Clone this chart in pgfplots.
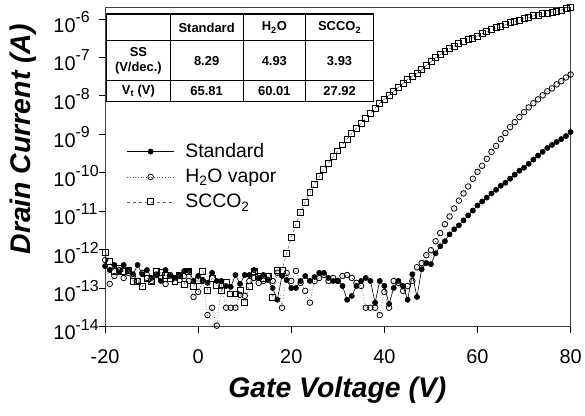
\documentclass[border=0pt]{standalone}
\usepackage{fontspec}
\setmainfont{Liberation Sans}
\usepackage{pgfplots}
\usepackage{pgfplotstable}
\pgfplotsset{compat=1.18}
\usetikzlibrary{calc}

% drain current (A) vs gate voltage (V)
\pgfplotstableread{
x std h2o sc
-20 3.75e-13 5.4e-13 8.7e-13
-19 2.96e-13 1.29e-13 5.0e-13
-18 4.0e-13 2.07e-13 2.8e-13
-17 2.6e-13 2.96e-13 3.3e-13
-16 4.0e-13 1.84e-13 2.8e-13
-15 2.96e-13 2.5e-13 2.96e-13
-14 2.3e-13 2.07e-13 1.54e-13
-13 4.0e-13 1.54e-13 1.54e-13
-12 2.3e-13 2.5e-13 1.08e-13
-11 2.96e-13 1.84e-13 1.84e-13
-10 1.84e-13 1.54e-13 1.54e-13
-9 2.3e-13 2.2e-13 2.8e-13
-8 1.54e-13 1.84e-13 2.5e-13
-7 2.96e-13 1.29e-13 2.2e-13
-6 2.07e-13 2.2e-13 1.84e-13
-5 1.84e-13 1.84e-13 1.54e-13
-4 2.2e-13 1.63e-13 2.2e-13
-3 2.8e-13 2.07e-13 1.29e-13
-2 2.8e-13 1.54e-13 2.8e-13
-1 1.54e-13 5.9e-14 1.14e-13
0 2.07e-13 8.0e-14 1.63e-13
1 1.63e-13 1.54e-13 2.8e-13
2 1.37e-13 2.0e-14 9.0e-14
3 2.5e-13 3.1e-14 1.84e-13
4 1.54e-13 1.06e-14 1.2e-13
5 1.54e-13 1.14e-13 8.5e-14
6 1.14e-13 3.1e-14 1.45e-13
7 1.08e-13 3.1e-14 7.1e-14
8 2.2e-13 3.1e-14 7.1e-14
9 1.29e-13 6.7e-14 8.5e-14
10 2.2e-13 6.3e-14 4.2e-14
11 2.2e-13 1.54e-13 1.14e-13
12 2.96e-13 1.84e-13 2.8e-13
13 1.84e-13 1.37e-13 2.07e-13
14 2.2e-13 1.54e-13 1.84e-13
15 1.63e-13 2.07e-13 2.07e-13
16 1.01e-13 1.54e-13 5.6e-14
17 5.0e-14 2.5e-13 2.96e-13
18 2.07e-13 3.1e-14 2.96e-13
19 1.63e-13 2.5e-13 8.1e-13
20 1.01e-13 1.54e-13 2.1e-12
21 1.01e-13 2.8e-13 4.6e-12
22 1.54e-13 1.37e-13 9.3e-12
23 2.07e-13 8.5e-14 1.7e-11
24 1.54e-13 4.2e-14 3.0e-11
25 1.95e-13 1.54e-13 4.9e-11
26 2.5e-13 1.84e-13 7.9e-11
27 2.5e-13 2.2e-13 1.2e-10
28 1.84e-13 1.54e-13 1.8e-10
29 1.54e-13 1.84e-13 2.6e-10
30 1.54e-13 1.54e-13 3.7e-10
31 1.14e-13 2.07e-13 5.3e-10
32 5.0e-14 2.2e-13 7.5e-10
33 6.3e-14 1.84e-13 1.07e-9
34 1.14e-13 1.37e-13 1.44e-9
35 1.54e-13 1.14e-13 1.94e-9
36 1.84e-13 3.1e-14 2.6e-9
37 1.54e-13 3.1e-14 3.5e-9
38 4.2e-14 3.1e-14 4.8e-9
39 1.54e-13 2.0e-14 6.4e-9
40 1.14e-13 8.0e-14 8.2e-9
41 3.9e-14 3.1e-14 1.03e-8
42 1.01e-13 1.54e-13 1.31e-8
43 1.54e-13 1.37e-13 1.66e-8
44 1.14e-13 8.5e-14 2.1e-8
45 5.0e-14 1.14e-13 2.7e-8
46 2.3e-13 1.54e-13 3.2e-8
47 5.9e-14 3.5e-13 3.8e-8
48 3.1e-13 4.5e-13 4.8e-8
49 4.5e-13 7.2e-13 6.1e-8
50 4.2e-13 9.7e-13 7.7e-8
51 8.1e-13 1.66e-12 9.8e-8
52 1.23e-12 2.7e-12 1.17e-7
53 1.66e-12 4.6e-12 1.41e-7
54 2.5e-12 7.3e-12 1.69e-7
55 3.4e-12 1.18e-11 1.9e-7
56 4.3e-12 1.89e-11 2.25e-7
57 5.8e-12 2.9e-11 2.6e-7
58 7.8e-12 4.4e-11 2.9e-7
59 1.04e-11 7.0e-11 3.2e-7
60 1.41e-11 1.06e-10 3.6e-7
61 1.79e-11 1.52e-10 4.1e-7
62 2.26e-11 2.3e-10 4.6e-7
63 2.9e-11 3.5e-10 5.2e-7
64 3.6e-11 5.0e-10 5.9e-7
65 4.6e-11 7.5e-10 6.2e-7
66 5.5e-11 1.08e-9 7.0e-7
67 7.0e-11 1.54e-9 7.9e-7
68 8.9e-11 2.07e-9 8.4e-7
69 1.13e-10 2.8e-9 9.4e-7
70 1.35e-10 3.75e-9 1.0e-6
71 1.71e-10 5.0e-9 1.07e-6
72 2.2e-10 6.4e-9 1.2e-6
73 2.8e-10 8.1e-9 1.26e-6
74 3.5e-10 1.03e-8 1.35e-6
75 4.4e-10 1.31e-8 1.41e-6
76 5.3e-10 1.56e-8 1.5e-6
77 6.3e-10 1.98e-8 1.6e-6
78 7.5e-10 2.4e-8 1.7e-6
79 9.0e-10 3.0e-8 1.85e-6
80 1.14e-9 3.6e-8 2.0e-6
}\ivdata

\newcommand{\ee}[1]{10\raisebox{0.5em}{\fontsize{16}{16}\selectfont #1}}

\begin{document}
\begin{tikzpicture}
\begin{axis}[
  name=ax, at={(0,0)}, anchor=south west,
  scale only axis, width=467.5pt, height=321pt,
  xmin=-20, xmax=80,
  ymode=log, ymin=1e-14, ymax=2.04e-6,
  xtick={-20,0,20,40,60,80},
  xticklabels={-20,0,20,40,60,80},
  ytick={1e-14,1e-13,1e-12,1e-11,1e-10,1e-9,1e-8,1e-7,1e-6},
  yticklabels={\ee{-14},\ee{-13},\ee{-12},\ee{-11},\ee{-10},\ee{-9},\ee{-8},\ee{-7},\ee{-6}},
  yminorticks=false,
  tick align=outside, xtick pos=left, ytick pos=left,
  major tick length=6pt,
  axis line style={black!75, line width=0.7pt},
  tick style={black, line width=0.7pt},
  tick label style={font=\fontsize{20}{24}\selectfont},
  xticklabel style={yshift=-14pt},
  yticklabel style={anchor=west, inner sep=0pt, xshift=-46pt, yshift=-3pt},
  xlabel={Gate Voltage (V)},
  ylabel={Drain Current (A)},
  label style={font=\bfseries\itshape\fontsize{28.5}{32}\selectfont},
  xlabel style={at={(axis description cs:0.499,-0.2)}, anchor=center},
  ylabel style={at={(axis description cs:-0.176,0.586)}, anchor=center},
  clip mode=individual,
  legend style={at={(0.04,0.585)}, anchor=north west, draw=none, fill=none,
    font=\fontsize{19.5}{23}\selectfont, row sep=6pt,
    /tikz/every odd column/.append style={column sep=9pt}},
  legend cell align=left,
  legend image code/.code={\draw[mark repeat=2,mark phase=2,#1] plot coordinates {(0pt,0pt) (23.5pt,0pt) (47pt,0pt)};},
]
\addplot[black, line width=0.6pt, mark=*, mark size=2.6pt,
  mark options={solid, fill=black}] table[x=x, y=std]{\ivdata};
\addlegendentry{Standard}
\addplot[black!60, dotted, line width=0.7pt, mark=o, mark size=2.8pt,
  mark options={solid, draw=black, fill=white, line width=0.8pt}] table[x=x, y=h2o]{\ivdata};
\addlegendentry{H\textsubscript{2}O vapor}
\addplot[black!60, dashed, line width=0.6pt, mark=square, mark size=3pt,
  mark options={solid, draw=black, fill=white, line width=0.8pt}] table[x=x, y=sc]{\ivdata};
\addlegendentry{SCCO\textsubscript{2}}
\end{axis}

% inset table, placed in pixel units of the reference
\begin{scope}[shift={($(ax.south west)+(-105.5pt,328pt)$)}, x=1pt, y=-1pt]
  \path (0,0) rectangle (585,417);
  \fill[white] (107,14) rectangle (375,102);
  \draw[line width=0.7pt] (171,14) -- (171,102) (244,14) -- (244,102) (307,14) -- (307,102)
    (107,41) -- (375,41) (107,81) -- (375,81);
  \draw[line width=1.8pt] (107,14) rectangle (375,102);
  \begin{scope}[every node/.style={font=\bfseries\fontsize{13}{15}\selectfont, align=center}]
    \node at (207.5,27.5) {Standard};
    \node at (275.5,27.5) {H\textsubscript{2}O};
    \node at (341,27.5) {SCCO\textsubscript{2}};
    \node at (139,61) {SS\\(V/dec.)};
    \node at (207.5,61) {8.29};
    \node at (275.5,61) {4.93};
    \node at (341,61) {3.93};
    \node at (139,91.5) {V\textsubscript{t} (V)};
    \node at (207.5,91.5) {65.81};
    \node at (275.5,91.5) {60.01};
    \node at (341,91.5) {27.92};
  \end{scope}
\end{scope}
\end{tikzpicture}
\end{document}
